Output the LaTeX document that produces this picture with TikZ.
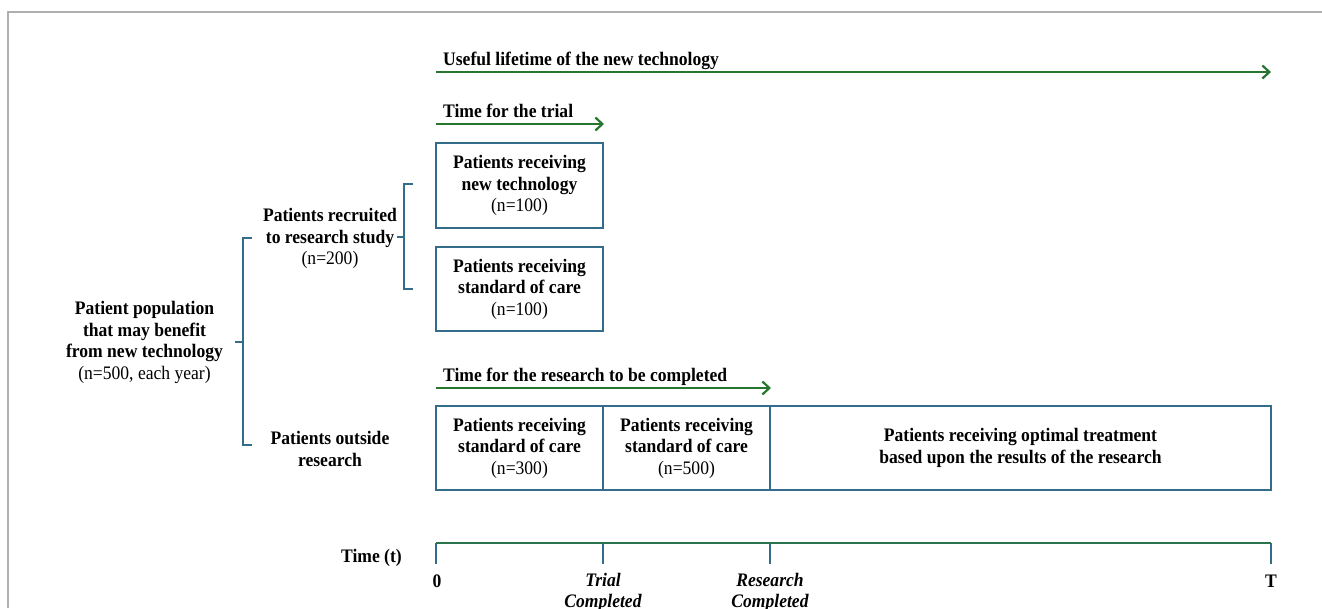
\documentclass[tikz,border=0pt]{standalone}
\usepackage{fontspec}
\setmainfont{Liberation Serif}[FakeStretch=0.92]
\usetikzlibrary{arrows.meta}
\definecolor{boxblue}{RGB}{52,108,140}
\definecolor{arrgreen}{RGB}{38,118,48}
\definecolor{frame}{RGB}{175,175,175}
\begin{document}
\begin{tikzpicture}[x=1pt,y=-1pt,
  every node/.style={font=\fontsize{19.1}{21.5}\selectfont\bfseries, inner sep=0pt, align=center},
  patbox/.style={draw=boxblue, line width=2pt, minimum height=84pt},
  garrow/.style={draw=arrgreen, line width=2.2pt, -{Straight Barb[length=7pt,width=13pt,line width=2.2pt]}},
  brack/.style={draw=boxblue, line width=2pt},
  tick/.style={draw=boxblue, line width=2pt},
  axisline/.style={draw=arrgreen!70!boxblue, line width=2pt},
  arrlabel/.style={anchor=base west},
  ital/.style={font=\fontsize{19.1}{21}\selectfont\bfseries\itshape}
]
\useasboundingbox (0,0) rectangle (1322,608);
% frame
\coordinate (fb) at (8,608);
\coordinate (fc) at (8,12);
\coordinate (fr) at (1322,12);
\draw[frame, line width=1.5pt] (fb) -- (fc) -- (fr);

% lifetime arrow
\coordinate (l0) at (436,72);
\coordinate (l1) at (1271,72);
\draw[garrow] (l0) -- (l1);
\node[arrlabel] (llab) at (443,65) {Useful lifetime of the new technology};

% trial arrow
\coordinate (tr0) at (436,124);
\coordinate (tr1) at (604,124);
\draw[garrow] (tr0) -- (tr1);
\node[arrlabel] (trlab) at (443,117) {Time for the trial};

% trial boxes
\node[patbox, minimum width=167pt, minimum height=85pt] (bnew) at (519.5,185.5)
  {Patients receiving\\new technology\\\mdseries(n=100)};
\node[patbox, minimum width=167pt] (bstd) at (519.5,289)
  {Patients receiving\\standard of care\\\mdseries(n=100)};

% research arrow
\coordinate (r0) at (436,388);
\coordinate (r1) at (771,388);
\draw[garrow] (r0) -- (r1);
\node[arrlabel] (rlab) at (443,381) {Time for the research to be completed};

% outside research boxes
\node[patbox, minimum width=167pt] (o1) at (519.5,448)
  {Patients receiving\\standard of care\\\mdseries(n=300)};
\node[patbox, minimum width=167pt] (o2) at (686.5,448)
  {Patients receiving\\standard of care\\\mdseries(n=500)};
\node[patbox, minimum width=501pt] (o3) at (1020.5,448)
  {Patients receiving optimal treatment\\based upon the results of the research};

% left labels
\node (pop) at (144.5,342.5)
  {Patient population\\that may benefit\\from new technology\\\mdseries(n=500, each year)};
\node (rec) at (330,238.5)
  {Patients recruited\\to research study\\\mdseries(n=200)};
\node (out) at (330,449)
  {Patients outside\\research};

% big bracket
\coordinate (bb1) at (252,238);
\coordinate (bb2) at (243,238);
\coordinate (bb3) at (243,445);
\coordinate (bb4) at (252,445);
\coordinate (bbm) at (243,342);
\coordinate (bbl) at (235,342);
\draw[brack] (bb1) -- (bb2) -- (bb3) -- (bb4);
\draw[brack] (bbm) -- (bbl);

% small bracket
\coordinate (sb1) at (413,184);
\coordinate (sb2) at (404,184);
\coordinate (sb3) at (404,289);
\coordinate (sb4) at (413,289);
\coordinate (sbm) at (404,237);
\draw[brack] (sb1) -- (sb2) -- (sb3) -- (sb4);
\draw[brack] (sbm) -- (rec.east |- sbm);

% time axis
\coordinate (a0) at (436,543);
\coordinate (a1) at (603,543);
\coordinate (a2) at (770,543);
\coordinate (a3) at (1271,543);
\coordinate (b0) at (436,564);
\coordinate (b1) at (603,564);
\coordinate (b2) at (770,564);
\coordinate (b3) at (1271,564);
\draw[tick] (a0) -- (b0);
\draw[tick] (a1) -- (b1);
\draw[tick] (a2) -- (b2);
\draw[tick] (a3) -- (b3);
\draw[axisline] (a0) -- (a3);

\node[anchor=base east] (tlab) at (402,562) {Time (t)};
\node[anchor=base] (z0) at (437,587) {0};
\node[ital] (tc) at (603,592) {Trial\\Completed};
\node[ital] (rc) at (770,592) {Research\\Completed};
\node[anchor=base] (zT) at (1271,587) {T};
\end{tikzpicture}
\end{document}
